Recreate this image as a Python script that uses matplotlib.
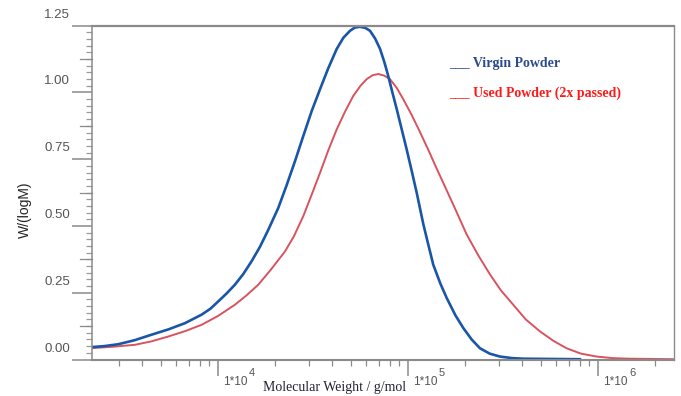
import numpy as np
import matplotlib
matplotlib.use("Agg")
import matplotlib.pyplot as plt
from matplotlib.ticker import FixedLocator, NullFormatter
from matplotlib.transforms import ScaledTranslation

# Molecular weight distribution (log10 M, W/(logM))
virgin_logm = [3.326, 3.400, 3.474, 3.560, 3.651, 3.740, 3.826, 3.914, 3.960, 4.002,
               4.045, 4.089, 4.133, 4.177, 4.221, 4.265, 4.317, 4.360, 4.405, 4.449,
               4.493, 4.537, 4.580, 4.625, 4.660, 4.695, 4.720, 4.747, 4.775, 4.800,
               4.827, 4.853, 4.875, 4.896, 4.918, 4.941, 4.967, 4.993, 5.020, 5.046,
               5.081, 5.107, 5.133, 5.170, 5.204, 5.250, 5.291, 5.335, 5.379, 5.430,
               5.484, 5.550, 5.607, 5.905]
virgin_w = [0.046, 0.050, 0.057, 0.072, 0.093, 0.113, 0.136, 0.168, 0.190, 0.218,
            0.247, 0.280, 0.320, 0.368, 0.422, 0.486, 0.567, 0.650, 0.742, 0.837,
            0.930, 1.012, 1.090, 1.163, 1.205, 1.231, 1.243, 1.246, 1.242, 1.231,
            1.202, 1.163, 1.115, 1.062, 1.000, 0.937, 0.862, 0.787, 0.705, 0.624,
            0.506, 0.430, 0.355, 0.285, 0.230, 0.165, 0.118, 0.075, 0.042, 0.022,
            0.011, 0.005, 0.003, 0.001]

used_logm = [3.326, 3.450, 3.563, 3.650, 3.738, 3.826, 3.914, 4.000, 4.089, 4.150,
             4.212, 4.280, 4.353, 4.400, 4.449, 4.493, 4.537, 4.580, 4.625, 4.670,
             4.712, 4.750, 4.783, 4.815, 4.844, 4.875, 4.905, 4.940, 4.975, 5.020,
             5.063, 5.107, 5.151, 5.204, 5.256, 5.309, 5.370, 5.432, 5.490, 5.554,
             5.620, 5.695, 5.765, 5.835, 5.910, 5.993, 6.080, 6.168, 6.405]
used_w = [0.042, 0.048, 0.055, 0.068, 0.086, 0.106, 0.130, 0.163, 0.205, 0.240,
          0.280, 0.338, 0.405, 0.462, 0.537, 0.617, 0.699, 0.782, 0.862, 0.930,
          0.987, 1.025, 1.050, 1.065, 1.069, 1.063, 1.050, 1.018, 0.975, 0.915,
          0.852, 0.785, 0.715, 0.633, 0.552, 0.468, 0.390, 0.318, 0.258, 0.205,
          0.150, 0.105, 0.070, 0.042, 0.022, 0.011, 0.005, 0.003, 0.001]

y_ticks = [0.0, 0.25, 0.5, 0.75, 1.0, 1.25]
y_tick_labels = ["0.00", "0.25", "0.50", "0.75", "1.00", "1.25"]
x_ticks = [1e4, 1e5, 1e6]
x_exponents = ["4", "5", "6"]

fig = plt.figure(figsize=(6.81, 3.96), dpi=100)
ax = fig.add_axes([92 / 681, 1 - 359.5 / 396, 582 / 681, 333.8 / 396])
to_px = fig.dpi_scale_trans

ax.plot(10 ** np.array(used_logm), used_w, color="#d9535e", lw=1.4)
ax.plot(10 ** np.array(virgin_logm), virgin_w, color="#1a56a8", lw=1.9)

ax.set_xscale("log")
ax.set_xlim(10 ** 3.337, 10 ** 6.4)
ax.set_ylim(0, 1.25)

# spines
for side in ["left", "right", "top", "bottom"]:
    ax.spines[side].set_color("#8a8a8a")
ax.spines["top"].set_linewidth(1.6)
ax.spines["bottom"].set_linewidth(1.5)
ax.spines["left"].set_linewidth(1.1)
ax.spines["right"].set_linewidth(1.0)

# y ticks: major / medium / minor
ax.yaxis.set_major_locator(FixedLocator(y_ticks))
ax.set_yticklabels(y_tick_labels)
minor_y = [i * 0.025 for i in range(51) if i % 10 != 0]
ax.yaxis.set_minor_locator(FixedLocator(minor_y))
ax.tick_params(axis="y", which="major", length=14.4, width=1.1, color="#8a8a8a",
               labelsize=9.5, labelcolor="#555555", pad=1.5)
ax.tick_params(axis="y", which="minor", length=4, width=0.9, color="#9a9a9a")
for v in [0.125, 0.375, 0.625, 0.875, 1.125]:
    ax.plot([-12 / 582, 0], [v, v], transform=ax.get_yaxis_transform(),
            color="#8a8a8a", lw=0.9, clip_on=False)
for lab in ax.get_yticklabels():
    lab.set_fontfamily("Liberation Sans")
    lab.set_transform(lab.get_transform() + ScaledTranslation(0, 12.5 / 100, to_px))

# x ticks
ax.xaxis.set_major_locator(FixedLocator(x_ticks))
ax.set_xticklabels(["1*10"] * len(x_ticks))
minor_x = [m * 10 ** e for e in range(3, 7) for m in range(2, 10)]
ax.xaxis.set_minor_locator(FixedLocator(minor_x))
ax.xaxis.set_minor_formatter(NullFormatter())
ax.tick_params(axis="x", which="major", length=11.5, width=1.1, color="#8a8a8a",
               labelsize=8.5, labelcolor="#555555", pad=4.6)
ax.tick_params(axis="x", which="minor", length=4, width=0.9, color="#8a8a8a")
for lab in ax.get_xticklabels():
    lab.set_fontfamily("Liberation Sans")
    lab.set_ha("left")
    lab.set_va("center")
    lab.set_transform(lab.get_transform() + ScaledTranslation(5 / 100, 0, to_px))
for xt, ex in zip(x_ticks, x_exponents):
    ax.text(xt, 0, ex, transform=ax.get_xaxis_transform() + ScaledTranslation(31 / 100, -14 / 100, to_px),
            fontfamily="Liberation Sans", fontsize=8, color="#555555", ha="left", va="center")

ax.set_xlabel("Molecular Weight / g/mol", fontfamily="Liberation Serif",
              fontsize=10, color="#222233", va="center")
ax.xaxis.set_label_coords(0.4175, -0.085)
ax.set_ylabel("W/(logM)", fontfamily="Liberation Sans", fontsize=10,
              color="#222222", va="center")
ax.yaxis.set_label_coords(-0.115, 0.448)

# legend drawn as text, like the original
fig.text(449 / 681, 1 - 63 / 396, "___ Virgin Powder", fontfamily="Liberation Serif",
         fontweight="bold", fontsize=10, color="#2b4b8c", va="center")
fig.text(449 / 681, 1 - 93 / 396, "___ Used Powder (2x passed)", fontfamily="Liberation Serif",
         fontweight="bold", fontsize=10, color="#ff1a1a", va="center")

fig.savefig("out.png", dpi=100)
